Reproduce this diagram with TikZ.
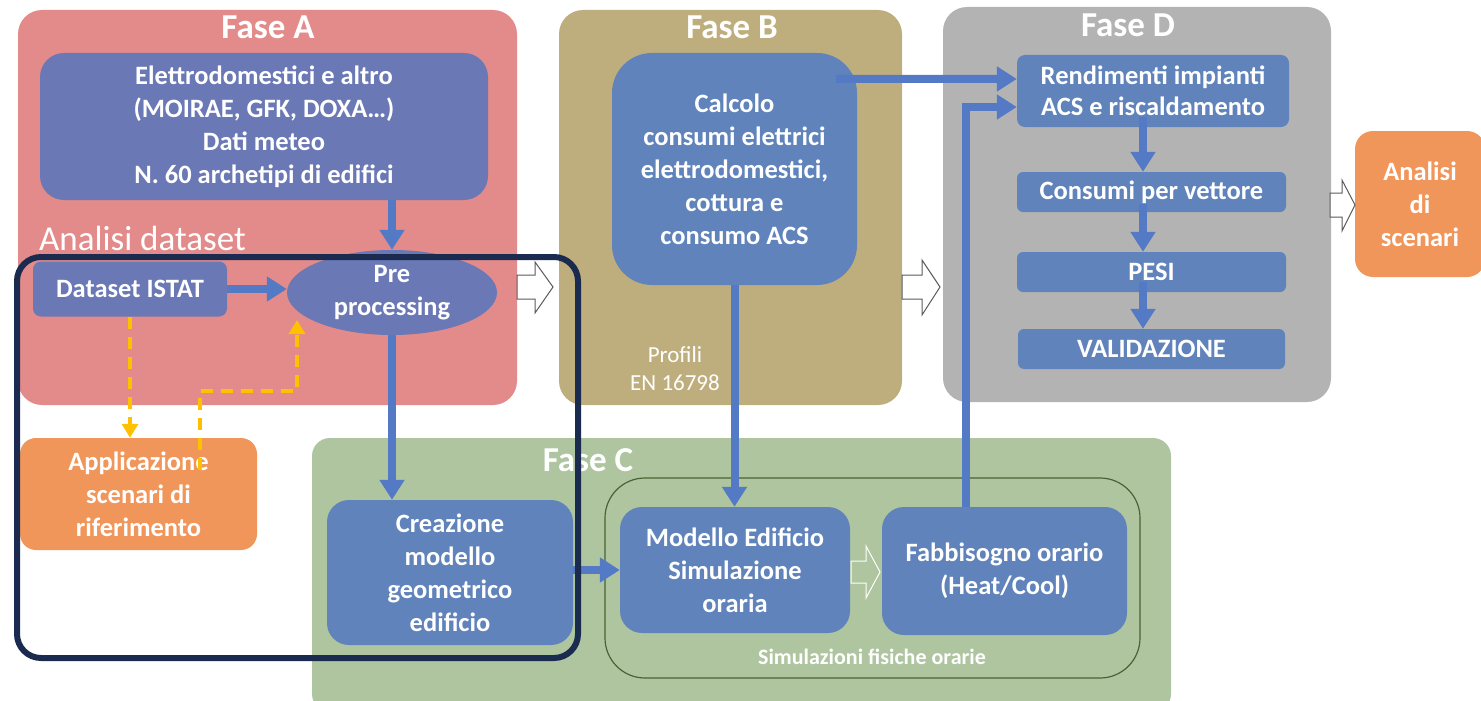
\documentclass[tikz,border=0pt]{standalone}
\usepackage{fontspec}
\setmainfont{Carlito}
\usetikzlibrary{arrows.meta,shapes.geometric,calc}
\definecolor{panA}{RGB}{226,139,138}
\definecolor{panB}{RGB}{191,174,125}
\definecolor{panC}{RGB}{174,197,160}
\definecolor{panD}{RGB}{179,179,179}
\definecolor{boxA}{RGB}{106,120,181}
\definecolor{boxB}{RGB}{95,131,186}
\definecolor{orng}{RGB}{241,150,90}
\definecolor{arrB}{RGB}{84,122,198}
\definecolor{yel}{RGB}{255,192,0}
\definecolor{navy}{RGB}{26,43,79}
\definecolor{frm}{RGB}{72,100,52}
\definecolor{hol}{RGB}{90,90,90}
\tikzset{
  ptitle/.style={text=white, font=\fontsize{35}{38}\selectfont\bfseries, inner sep=0pt},
  bx/.style={fill=#1, text=white, font=\fontsize{26.5}{33}\selectfont\bfseries, align=center, inner sep=0pt},
  barrow/.style={draw=arrB, line width=8pt, -{Triangle[length=20pt,width=24pt]}},
  yarrow/.style={draw=yel, line width=4pt, dash pattern=on 12pt off 8pt, -{Triangle[length=14pt,width=16pt]}},
  hollow/.style={draw=hol, line width=1pt, fill=white}
}
\begin{document}
\begin{tikzpicture}[x=1pt,y=-1pt]
\useasboundingbox (0,0) rectangle (1481,701);
% panels
\fill[panA, rounded corners=24pt] (18,10) rectangle (517,405);
\fill[panB, rounded corners=24pt] (559,10) rectangle (902,405);
\fill[panD, rounded corners=24pt] (943,7) rectangle (1331,402);
\fill[panC, rounded corners=18pt] (312,438) rectangle (1171,712);
\node[ptitle] (tA) at (268,27) {Fase A};
\node[ptitle] (tB) at (732,27) {Fase B};
\node[ptitle] (tD) at (1128,25) {Fase D};
\node[ptitle] (tC) at (588,460) {Fase C};
\node[text=white, anchor=west, inner sep=0pt, font=\fontsize{35}{35}\selectfont] (lab) at (39,238) {Analisi dataset};
% inner frame
\draw[frm, line width=1.2pt, rounded corners=40pt] (605,478) rectangle (1140,678);
\node[text=white, font=\fontsize{22}{24}\selectfont\bfseries, inner sep=0pt] (simlab) at (872,657) {Simulazioni fisiche orarie};
% Fase A boxes
\node[bx=boxA, rounded corners=24pt, minimum width=448pt, minimum height=147pt] (src) at (264,126.5)
  {Elettrodomestici e altro\\(MOIRAE, GFK, DOXA…)\\Dati meteo\\N. 60 archetipi di edifici};
\node[bx=boxA, rounded corners=8pt, minimum width=194pt, minimum height=55pt] (istat) at (130,289) {Dataset ISTAT};
\node[bx=boxA, ellipse, minimum width=210pt, minimum height=85pt] (pre) at (392,292.5) {Pre\\processing};
\node[bx=orng, rounded corners=16pt, minimum width=237pt, minimum height=112pt] (app) at (138.5,494) {Applicazione\\scenari di\\riferimento};
% Fase B
\node[bx=boxB, rounded corners=40pt, minimum width=245pt, minimum height=232pt] (calc) at (734.5,169)
  {Calcolo\\consumi elettrici\\elettrodomestici,\\cottura e\\consumo ACS};
\node[text=white, align=center, inner sep=0pt, font=\fontsize{23}{28}\selectfont] (prof) at (675,369) {Profili\\EN 16798};
% Fase C
\node[bx=boxB, rounded corners=22pt, minimum width=246pt, minimum height=145pt] (crea) at (450,572.5) {Creazione\\modello\\geometrico\\edificio};
\node[bx=boxB, rounded corners=22pt, minimum width=230pt, minimum height=126pt] (mod) at (735,570) {Modello Edificio\\Simulazione\\oraria};
\node[bx=boxB, rounded corners=22pt, minimum width=245pt, minimum height=128pt] (fab) at (1004.5,571) {Fabbisogno orario\\(Heat/Cool)};
% Fase D
\node[bx=boxB, rounded corners=8pt, minimum width=272pt, minimum height=72pt, font=\fontsize{26.5}{31}\selectfont\bfseries] (rend) at (1153,91) {Rendimenti impianti\\ACS e riscaldamento};
\node[bx=boxB, rounded corners=6pt, minimum width=269pt, minimum height=40pt] (cons) at (1151.5,192) {Consumi per vettore};
\node[bx=boxB, rounded corners=6pt, minimum width=269pt, minimum height=40pt] (pesi) at (1151.5,272) {PESI};
\node[bx=boxB, rounded corners=6pt, minimum width=267pt, minimum height=40pt] (val) at (1151.5,349) {VALIDAZIONE};
\node[bx=orng, rounded corners=18pt, minimum width=130pt, minimum height=146pt] (ana) at (1420,204) {Analisi\\di\\scenari};
% blue connectors
\draw[barrow] (pre.north |- src.south) -- (pre.north);
\draw[barrow] (istat.east) -- (pre.west |- istat.east);
\draw[barrow] (pre.south) -- (pre.south |- crea.north);
\draw[barrow] (crea.east |- mod.west) -- (mod.west);
\draw[barrow] (calc.south) -- (calc.south |- mod.north);
\draw[barrow] ($(calc.north east)+(-21,26)$) -- ($(rend.west)+(0,-12)$);
\draw[barrow] ($(fab.north)+(-38.5,0)$) |- ($(rend.west)+(0,16)$);
\draw[barrow] ($(rend.south)+(-10,-10)$) -- ($(cons.north)+(-8.5,0)$);
\draw[barrow] ($(cons.south)+(-8.5,-8)$) -- ($(pesi.north)+(-8.5,0)$);
\draw[barrow] ($(pesi.south)+(-8.5,-10)$) -- ($(val.north)+(-8.5,0)$);
% yellow dashed connectors
\coordinate (yS) at (200,470);
\coordinate (yE) at (297,320);
\draw[yarrow] (istat.south) -- (istat.south |- app.north);
\draw[yarrow] (yS) |- (200,391) -| (yE);
% hollow block arrows
\draw[hollow] (517,275) -- (535,275) -- (535,262) -- (553,287) -- (535,313) -- (535,299) -- (517,299) -- cycle;
\draw[hollow] (902,275) -- (922,275) -- (922,260) -- (940,287) -- (922,315) -- (922,299) -- (902,299) -- cycle;
\draw[hollow] (1330,193) -- (1342,193) -- (1342,180) -- (1355,205) -- (1342,231) -- (1342,217) -- (1330,217) -- cycle;
\draw[draw=white, line width=1pt] (851,561) -- (866,561) -- (866,546) -- (880,572) -- (866,598) -- (866,583) -- (851,583) -- cycle;
% navy hand-drawn frame
\draw[navy, line width=6pt, rounded corners=24pt] (17,257) rectangle (578,658);
\end{tikzpicture}
\end{document}
